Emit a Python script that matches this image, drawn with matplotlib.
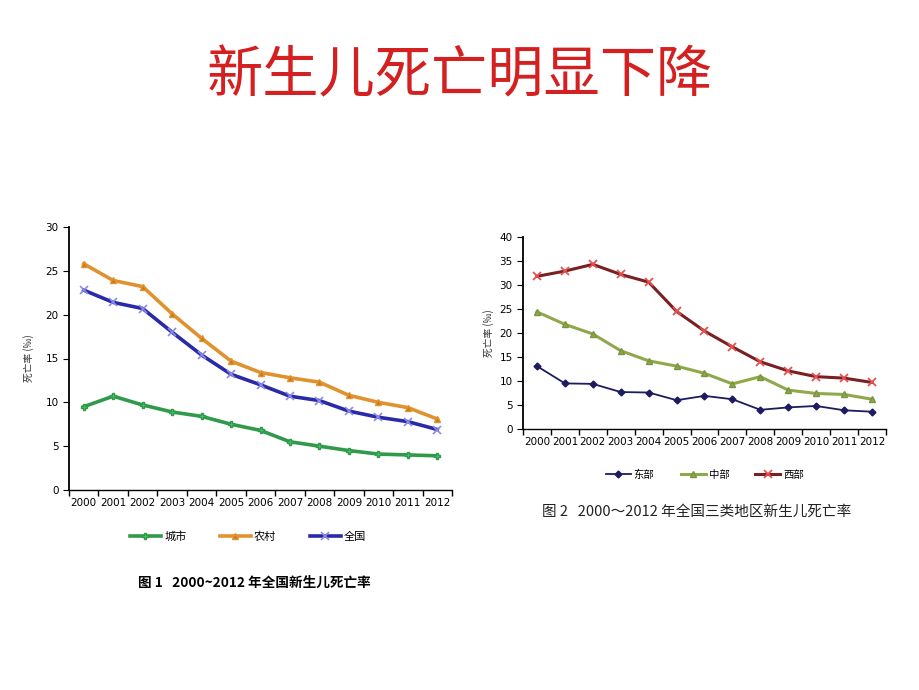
import matplotlib.pyplot as plt
import numpy as np

plt.rcParams['font.family'] = ['Noto Sans CJK SC', 'DejaVu Sans']

years = ['2000', '2001', '2002', '2003', '2004', '2005', '2006',
         '2007', '2008', '2009', '2010', '2011', '2012']

# 图1 全国 / 城市 / 农村
city = [9.5, 10.7, 9.7, 8.9, 8.4, 7.5, 6.8, 5.5, 5.0, 4.5, 4.1, 4.0, 3.9]
rural = [25.8, 23.9, 23.2, 20.1, 17.3, 14.7, 13.4, 12.8, 12.3, 10.8, 10.0, 9.4, 8.1]
nation = [22.8, 21.4, 20.7, 18.0, 15.4, 13.2, 12.0, 10.7, 10.2, 9.0, 8.3, 7.8, 6.9]

# 图2 东部 / 中部 / 西部
east = [13.1, 9.5, 9.4, 7.7, 7.6, 6.0, 6.9, 6.2, 4.0, 4.5, 4.8, 3.9, 3.6]
middle = [24.4, 21.8, 19.8, 16.3, 14.2, 13.1, 11.6, 9.4, 10.9, 8.1, 7.4, 7.2, 6.2]
west = [31.8, 32.9, 34.3, 32.2, 30.6, 24.5, 20.4, 17.1, 14.0, 12.1, 10.9, 10.6, 9.7]

W, H = 920, 690
fig = plt.figure(figsize=(9.2, 6.9), dpi=100)


def px_axes(x0, y0, x1, y1):
    # 像素坐标 -> 图坐标 (y 从上往下)
    return fig.add_axes([x0 / W, 1 - y1 / H, (x1 - x0) / W, (y1 - y0) / H])


def style_axes(ax, ymax, tick_fs):
    x = np.arange(len(years))
    ax.set_xlim(-0.5, len(years) - 0.5)
    ax.set_ylim(0, ymax)
    ax.set_xticks(x)
    ax.set_xticklabels(years, fontsize=tick_fs, family='DejaVu Sans')
    ax.set_xticks(np.arange(-0.5, len(years)), minor=True)
    ax.tick_params(axis='x', which='major', length=0, pad=6)
    ax.tick_params(axis='x', which='minor', length=4, width=1, direction='out')
    ax.tick_params(axis='y', labelsize=tick_fs, length=4, direction='out')
    for lab in ax.get_yticklabels():
        lab.set_family('DejaVu Sans')
    ax.spines['top'].set_visible(False)
    ax.spines['right'].set_visible(False)
    ax.spines['left'].set_linewidth(1.3)
    ax.spines['bottom'].set_linewidth(1.0)
    return x


fig.text(0.5, 1 - 77 / H, '新生儿死亡明显下降', ha='center', va='center',
         fontsize=40.5, color='#d42020', fontweight='medium')

# 图1
ax1 = px_axes(69, 227, 452, 490)
x = style_axes(ax1, 30, 7.5)
ax1.set_yticks(range(0, 31, 5))
ax1.plot(x, city, color='#2e9a4a', lw=2.6, marker='P', ms=5,
         mfc='#4cc070', mec='#2e9a4a', label='城市')
ax1.plot(x, rural, color='#e0922e', lw=2.6, marker='^', ms=5,
         mfc='#c87a20', mec='#e0922e', label='农村')
ax1.plot(x, nation, color='#2a2aa8', lw=2.6, marker='x', ms=6, mew=1.2,
         mec='#8a8ae8', label='全国')
ax1.set_ylabel('死亡率 (‰)', fontsize=7, color='#333333', labelpad=8)
ax1.legend(loc='center', bbox_to_anchor=(248 / W, 1 - 537 / H),
           bbox_transform=fig.transFigure, ncol=3, frameon=False,
           fontsize=8, handlelength=2.8, columnspacing=3.0, handletextpad=0.3)
fig.text(138 / W, 1 - 583 / H, '图 1   2000~2012 年全国新生儿死亡率',
         ha='left', va='center', fontsize=9.8, fontweight='bold')

# 图2
ax2 = px_axes(523, 237, 886, 429)
x = style_axes(ax2, 40, 7.5)
ax2.set_yticks(range(0, 41, 5))
ax2.plot(x, east, color='#1c1c5e', lw=1.3, marker='D', ms=3.5,
         mfc='#1c1c5e', mec='#1c1c5e', label='东部')
ax2.plot(x, middle, color='#8ea84a', lw=2.2, marker='^', ms=5,
         mfc='#8ea84a', mec='#7a9440', label='中部')
ax2.plot(x, west, color='#7a1f22', lw=2.2, marker='x', ms=6, mew=1.3,
         mec='#e85050', label='西部')
ax2.set_ylabel('死亡率 (‰)', fontsize=7, color='#333333', labelpad=4)
ax2.legend(loc='center', bbox_to_anchor=(705 / W, 1 - 475 / H),
           bbox_transform=fig.transFigure, ncol=3, frameon=False,
           fontsize=7.5, handlelength=2.4, columnspacing=2.5, handletextpad=0.3)
fig.text(697 / W, 1 - 512 / H, '图 2   2000～2012 年全国三类地区新生儿死亡率',
         ha='center', va='center', fontsize=10.5, color='#222222',
         fontweight='medium')

fig.savefig('out.png', dpi=100)
